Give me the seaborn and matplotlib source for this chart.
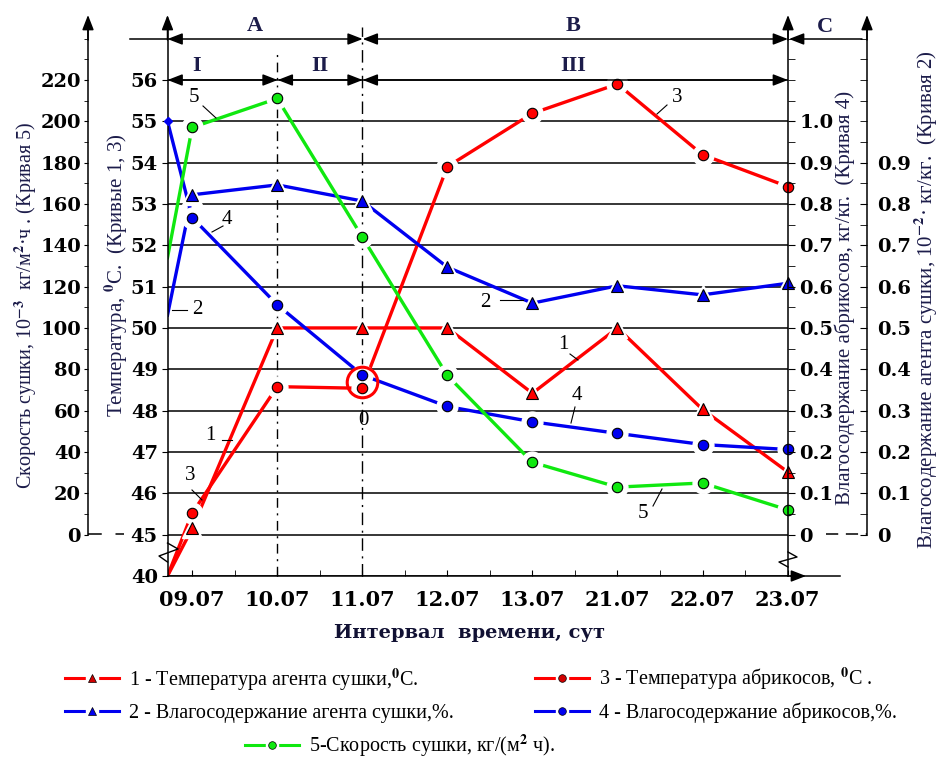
import numpy as np
import matplotlib
matplotlib.use("Agg")
import matplotlib.pyplot as plt
import seaborn as sns
from matplotlib.lines import Line2D
from matplotlib.patches import FancyArrowPatch
from matplotlib.legend_handler import HandlerTuple

# ---------------- data ----------------
days = ['09.07', '10.07', '11.07', '12.07', '13.07', '21.07', '22.07', '23.07']
x_start = -0.29                       # starting point (on the temperature axis)
t_agent = [40.0, 45.15, 50.0, 50.0, 50.0, 48.42, 50.0, 48.03, 46.52]      # curve 1
m_agent = [0.531, 0.822, 0.846, 0.807, 0.647, 0.56, 0.602, 0.58, 0.608]   # curve 2
t_apricot = [40.0, 45.52, 48.58, 48.54, 53.9, 55.19, 55.9, 54.19, 53.42]  # curve 3
m_apricot = [1.0, 0.767, 0.556, 0.386, 0.31, 0.273, 0.245, 0.218, 0.206]  # curve 4
rate = [134, 197, 211, 144, 77, 35, 23, 25, 12]                           # curve 5

temp_ticks = [40, 45, 46, 47, 48, 49, 50, 51, 52, 53, 54, 55, 56]
rate_ticks = [0, 20, 40, 60, 80, 100, 120, 140, 160, 180, 200, 220]
m4_ticks = [0, 0.1, 0.2, 0.3, 0.4, 0.5, 0.6, 0.7, 0.8, 0.9, 1.0]
m2_ticks = [0, 0.1, 0.2, 0.3, 0.4, 0.5, 0.6, 0.7, 0.8, 0.9]

legend_labels = ['1 - Температура агента сушки,$^0$С.',
                 '2 - Влагосодержание агента сушки,%.',
                 '3 - Температура абрикосов, $^0$С .',
                 '4 - Влагосодержание абрикосов,%.',
                 '5-Скорость сушки, кг/(м$^2$ ч).']

# ---------------- style ----------------
plt.rcParams['font.family'] = ['DejaVu Serif']
plt.rcParams['font.weight'] = 'bold'
plt.rcParams['mathtext.fontset'] = 'stix'
plt.rcParams['axes.linewidth'] = 1.1

W, H = 940, 758
def fx(p): return p / W
def fy(p): return 1 - p / H

RED, BLUE, GREEN = '#ff0000', '#0000f0', '#10e810'
TXT = '#1c1c4a'
SERIF = ['Liberation Serif', 'DejaVu Serif']
TICK_FS = 14

fig = plt.figure(figsize=(9.4, 7.58), dpi=100)
ax = fig.add_axes([fx(167.5), fy(576), (788 - 167.5) / W, (576 - 22) / H])

def fwd(t):
    t = np.asarray(t, dtype=float)
    return np.where(t >= 45, t, 45 - (45 - t) / 5.0)

def inv(u):
    u = np.asarray(u, dtype=float)
    return np.where(u >= 45, u, 45 - (45 - u) * 5.0)

ax.set_yscale('function', functions=(fwd, inv))
ax.set_ylim(40, 57.40)
ax.set_xlim(x_start, 7.005)

ax5 = ax.twinx(); ax5.set_ylim(-20, 248)
ax4 = ax.twinx(); ax4.set_ylim(-0.1, 1.24)
ax2 = ax.twinx(); ax2.set_ylim(-0.1, 1.24)

xs = [x_start] + list(range(len(days)))
series = [(t_agent, ax, RED, '^'), (t_apricot, ax, RED, 'o'),
          (m_agent, ax2, BLUE, '^'), (m_apricot, ax4, BLUE, 'o'),
          (rate, ax5, GREEN, 'o')]

for ys, tax, c, m in series:
    sns.lineplot(x=xs, y=ys, ax=ax, color=c, lw=2.4, transform=tax.transData,
                 estimator=None, sort=False, legend=False, zorder=2)
for ys, tax, c, m in series:
    ax.plot(xs[1:], ys[1:], ls='none', marker=m, ms=15, mfc='white', mec='white',
            transform=tax.transData, zorder=3, clip_on=False)
for ys, tax, c, m in series:
    ax.plot(xs[1:], ys[1:], ls='none', marker=m, ms=7.5 if m == 'o' else 8,
            mfc=c, mec='black', mew=0.8, transform=tax.transData, zorder=4, clip_on=False)
# small start mark of curve 4 on the axis
ax.plot(xs[:1], m_apricot[:1], ls='none', marker='D', ms=4, mfc=BLUE, mec=BLUE,
        transform=ax4.transData, zorder=4, clip_on=False)

# ring around point "0"
ax.plot([2], [48.70], marker='o', ms=22, mfc='none', mec=RED, mew=2.2, zorder=5)

# vertical stage boundaries
ax.plot([1, 1], [40, 56.65], color='black', lw=1, ls=(0, (7, 4, 1.5, 4)), zorder=1.5, clip_on=False)
ax.plot([2, 2], [40, 57.28], color='black', lw=1, ls=(0, (9, 4, 1.5, 4)), zorder=1.5, clip_on=False)

# ---------------- main axes ----------------
ax.set_xlabel(''); ax.set_ylabel('')
ax.set_yticks(temp_ticks)
ax.set_yticklabels([str(t) for t in temp_ticks])
ax.yaxis.grid(True, color='black', lw=1.1)
ax.set_axisbelow(True)
ax.set_xticks(range(len(days)))
ax.set_xticklabels(days)
ax.set_xticks(np.arange(0.5, 7, 1.0), minor=True)
ax.tick_params(axis='x', which='both', direction='in', length=4, pad=10, labelsize=15)
ax.tick_params(axis='y', direction='out', length=4, pad=3, labelsize=TICK_FS)
ax.spines['top'].set_visible(False)
ax.spines['right'].set_visible(False)

# curve 5 axis (far left)
for s in ['right', 'top', 'bottom']:
    ax5.spines[s].set_visible(False)
ax5.spines['left'].set_visible(True)
ax5.spines['left'].set_position(('axes', (88 - 167.5) / 620.5))
ax5.spines['left'].set_bounds(0, 248)
ax5.yaxis.set_ticks_position('left')
ax5.set_yticks(rate_ticks)
ax5.set_yticklabels([str(v) for v in rate_ticks])
ax5.set_yticks([v for v in range(0, 250, 10) if v not in rate_ticks], minor=True)
ax5.tick_params(axis='y', which='both', direction='out', length=3, pad=2, labelsize=TICK_FS)

# curve 4 axis (right spine)
for s in ['left', 'top', 'bottom']:
    ax4.spines[s].set_visible(False)
ax4.set_yticks(m4_ticks)
ax4.set_yticklabels(['0' if v == 0 else f'{v:.1f}' for v in m4_ticks])
ax4.set_yticks([round(v, 2) for v in np.arange(0.05, 1.21, 0.05) if round(v, 2) not in m4_ticks], minor=True)
ax4.tick_params(axis='y', which='both', direction='out', length=5, pad=3, labelsize=TICK_FS)

# curve 2 axis (far right)
for s in ['left', 'top', 'bottom']:
    ax2.spines[s].set_visible(False)
ax2.spines['right'].set_position(('axes', (867 - 167.5) / 620.5))
ax2.spines['right'].set_bounds(0, 1.24)
ax2.set_yticks(m2_ticks)
ax2.set_yticklabels(['0' if v == 0 else f'{v:.1f}' for v in m2_ticks])
ax2.set_yticks([round(v, 2) for v in np.arange(0.05, 1.21, 0.05) if round(v, 2) not in m2_ticks], minor=True)
ax2.tick_params(axis='y', which='both', direction='in', length=5, pad=7, labelsize=TICK_FS)

# ---------------- decorations in figure pixels ----------------
def fline(xp, yp, **kw):
    kw.setdefault('color', 'black'); kw.setdefault('lw', 1.1)
    fig.add_artist(Line2D([fx(v) for v in xp], [fy(v) for v in yp], transform=fig.transFigure, **kw))

def farrow(p1, p2, style='-|>'):
    fig.add_artist(FancyArrowPatch((fx(p1[0]), fy(p1[1])), (fx(p2[0]), fy(p2[1])),
                                   transform=fig.transFigure,
                                   arrowstyle=f'{style},head_length=0.9,head_width=0.35',
                                   mutation_scale=10, color='black', lw=1.1,
                                   shrinkA=0, shrinkB=0))

for xp in [88, 167.5, 788, 867]:
    farrow((xp, 40), (xp, 15))
# x-axis extension
fline([788, 840], [576, 576])
farrow((790, 576), (806, 576))
# zero connectors
fline([88, 124], [533.5, 533.5], ls=(0, (9, 9)))
fline([826, 867], [534, 534], ls=(0, (8, 5)))
# axis breaks
fline([167.5, 178, 159, 167.5], [543, 549, 556, 562], lw=1)
fline([788, 797, 779, 788], [552, 557, 562, 567], lw=1)
# stage rows
fline([130, 168], [39, 39])
farrow((167.5, 39), (362.7, 39), '<|-|>')
farrow((362.7, 39), (788, 39), '<|-|>')
farrow((862, 39), (789, 39), '-|>')
farrow((167.5, 80), (277.7, 80), '<|-|>')
farrow((277.7, 80), (362.7, 80), '<|-|>')
farrow((362.7, 80), (788, 80), '<|-|>')

def ftext(xp, yp, s, size=15, **kw):
    kw.setdefault('color', TXT)
    kw.setdefault('family', SERIF)
    kw.setdefault('weight', 'bold')
    fig.text(fx(xp), fy(yp), s, fontsize=size, ha='center', va='center', **kw)

for s, xp, yp in [('A', 255, 26), ('B', 573, 26), ('C', 825, 27),
                  ('I', 197, 66), ('II', 320, 66), ('III', 573, 66)]:
    ftext(xp, yp, s, 16)

# curve labels with leader lines
for s, xp, yp in [('5', 194, 97), ('4', 227, 220), ('2', 197, 310), ('1', 210, 435),
                  ('3', 190, 475), ('0', 363, 420), ('3', 677, 97), ('2', 485, 303),
                  ('1', 563, 345), ('4', 577, 395), ('5', 643, 513)]:
    ftext(xp, yp, s, 15, color='black', weight='normal')
for xp, yp in [([203, 216], [106, 118]), ([223, 212], [226, 232]), ([172, 187], [310, 310]),
               ([222, 232], [440, 440]), ([192, 202], [490, 500]), ([667, 657], [105, 114]),
               ([500, 523], [300, 300]), ([570, 578], [354, 360]), ([575, 571], [407, 423]),
               ([653, 662], [506, 489])]:
    fline(xp, yp, lw=0.8)

# axis titles
ftext(26, 305, 'Скорость сушки, 10$^{-3}$  кг/м$^2$·ч . (Кривая 5)', 14.5, rotation=90, weight='normal')
ftext(116, 275, 'Температура, $^0$С.  (Кривые 1, 3)', 15, rotation=90, weight='normal')
ftext(845, 298, 'Влагосодержание абрикосов, кг/кг.  (Кривая 4)', 15, rotation=90, weight='normal')
ftext(926, 300, 'Влагосодержание агента сушки, 10$^{-2}$· кг/кг.  (Кривая 2)', 15, rotation=90, weight='normal')
ftext(470, 633, 'Интервал  времени, сут', 14, color='#111133', family=['DejaVu Serif'])

# ---------------- legend ----------------
def handle(c, m):
    return (Line2D([], [], color=c, lw=2.2),
            Line2D([], [], ls='none', marker='s', ms=9, mfc='white', mec='white'),
            Line2D([], [], ls='none', marker=m, ms=5.5, mfc='#d00000' if c == RED else c, mec='black', mew=0.5))

hs = [handle(RED, '^'), handle(BLUE, '^'), handle(RED, 'o'), handle(BLUE, 'o'), handle(GREEN, 'o')]
common = dict(frameon=False, borderpad=0, borderaxespad=0, handlelength=2.7, handletextpad=0.5,
              labelspacing=0.55, handler_map={tuple: HandlerTuple(ndivide=1)},
              prop={'family': SERIF, 'size': 14.5, 'weight': 'normal'}, labelcolor='black',
              loc='center left')
fig.legend([hs[0], hs[1]], legend_labels[0:2], bbox_to_anchor=(fx(65), fy(694.5)), **common)
fig.legend([hs[2], hs[3]], legend_labels[2:4], bbox_to_anchor=(fx(535), fy(694.5)), **common)
fig.legend([hs[4]], legend_labels[4:5], bbox_to_anchor=(fx(245), fy(746)), **common)

fig.savefig('out.png', dpi=100, facecolor='white')
